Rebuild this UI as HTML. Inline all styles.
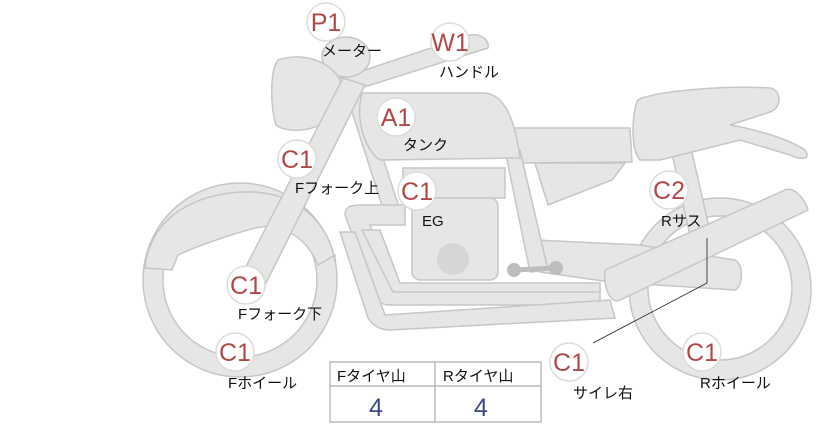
<!DOCTYPE html>
<html><head><meta charset="utf-8"><style>
html,body{margin:0;padding:0;background:#fff;}
svg{display:block;font-family:"Liberation Sans","Noto Sans CJK JP",sans-serif;}
.p{fill:#e6e6e4;stroke:#c6c6c4;stroke-width:1.5;}
.b circle{fill:#fff;stroke:#dcdcdc;stroke-width:1.5;}
.b text{fill:#b04848;font-size:25px;text-anchor:middle;}
.l{font-size:15px;fill:#111;}
</style></head><body>
<svg width="822" height="425" viewBox="0 0 822 425">
<!-- front wheel -->
<path class="p" fill-rule="evenodd" d="M240,183a97,97 0 1,0 0.1,0zM240,203a77,77 0 1,1 -0.1,0z"/>
<!-- front fender -->
<path class="p" d="M145,268 C150,215 200,190 255,192 C300,195 330,225 335,262 L335,255 L318,265 C305,235 280,222 255,228 C230,235 200,245 178,255 L172,270 Z"/>
<!-- rear wheel -->
<path class="p" fill-rule="evenodd" d="M720,198a91,91 0 1,0 0.1,0zM720,216a72,72 0 1,1 -0.1,0z"/>
<!-- rear frame strut -->
<path class="p" d="M668,135 L688,135 L712,240 L692,245 Z"/>
<!-- rear seat -->
<path class="p" d="M638,100 C650,92 720,85 770,88 C782,90 782,108 770,112 L730,125 C760,130 790,140 805,150 C812,160 800,160 790,155 L740,140 L660,160 L640,160 C630,150 632,110 638,100Z"/>
<!-- seat -->
<path class="p" d="M512,128 L630,128 L632,162 L520,163 C505,160 505,135 512,128Z"/>
<path class="p" d="M535,163 L625,163 L612,180 L548,205 Z"/>
<!-- swingarm -->
<path class="p" d="M535,240 L640,245 L735,260 C745,265 742,288 735,290 L610,282 L540,272 Z"/>
<!-- frame -->
<path class="p" d="M505,150 L520,150 L548,270 L530,272 Z"/>
<path class="p" d="M345,90 L360,88 L400,210 L385,215 Z"/>
<!-- handlebar -->
<path class="p" d="M335,80 L470,35 C480,33 490,40 488,48 L475,52 L355,90 Z"/>
<!-- meter -->
<ellipse class="p" cx="346" cy="57" rx="24" ry="20"/>
<!-- headlight -->
<path class="p" d="M278,60 C300,52 330,60 340,80 C345,95 340,115 320,125 C305,132 285,132 276,125 C270,105 270,70 278,60Z"/>
<!-- fork -->
<path class="p" d="M343,78 L365,85 L260,295 L238,282 Z"/>
<!-- tank -->
<path class="p" d="M362,93 L485,93 C505,95 515,120 520,158 L380,160 C365,150 355,120 362,93Z"/>
<!-- engine -->
<rect class="p" x="403" y="168" width="102" height="30"/>
<rect class="p" x="412" y="198" width="86" height="82" rx="8"/>
<circle cx="453" cy="259" r="16" fill="#d6d6d6"/>
<!-- exhaust pipes -->
<path class="p" d="M345,215 C345,207 350,205 360,205 L405,205 L405,225 L370,225 L395,290 L600,290 L600,305 L390,305 C380,305 378,300 375,295 Z"/>
<path class="p" d="M362,230 L380,230 L400,283 L600,283 L600,292 L393,292 Z"/>
<path class="p" d="M340,232 L355,232 L385,315 L610,300 L615,318 L390,330 C380,330 372,325 368,318 Z"/>
<!-- peg -->
<line x1="514" y1="270" x2="556" y2="268" stroke="#bdbdbd" stroke-width="5"/>
<circle cx="514" cy="270" r="7" fill="#bdbdbd"/><circle cx="556" cy="268" r="7" fill="#bdbdbd"/>
<!-- muffler -->
<path class="p" d="M605,270 L785,190 C795,186 805,200 808,210 L620,300 C612,305 603,290 605,270Z"/>
<!-- leader -->
<polyline points="593,343 707,283 707,238" fill="none" stroke="#222" stroke-width="0.8"/>
<!-- badges -->
<g class="b">
<circle cx="326" cy="22" r="19"/><text x="326" y="31">P1</text>
<circle cx="450" cy="42" r="19"/><text x="450" y="51">W1</text>
<circle cx="396" cy="117" r="19"/><text x="396" y="126">A1</text>
<circle cx="297" cy="159" r="19"/><text x="297" y="168">C1</text>
<circle cx="417" cy="191" r="19"/><text x="417" y="200">C1</text>
<circle cx="669" cy="190" r="19"/><text x="669" y="199">C2</text>
<circle cx="246" cy="285" r="19"/><text x="246" y="294">C1</text>
<circle cx="235" cy="352" r="19"/><text x="235" y="361">C1</text>
<circle cx="569" cy="362" r="19"/><text x="569" y="371">C1</text>
<circle cx="702" cy="352" r="19"/><text x="702" y="361">C1</text>
</g>
<text class="l" x="322" y="56">メーター</text>
<text class="l" x="439" y="77">ハンドル</text>
<text class="l" x="403" y="150">タンク</text>
<text class="l" x="295" y="193">Fフォーク上</text>
<text class="l" x="422" y="226">EG</text>
<text class="l" x="661" y="226">Rサス</text>
<text class="l" x="238" y="319">Fフォーク下</text>
<text class="l" x="228" y="388">Fホイール</text>
<text class="l" x="573" y="398">サイレ右</text>
<text class="l" x="700" y="388">Rホイール</text>
<!-- table -->
<rect x="330" y="362" width="211" height="60" fill="#fff" stroke="#aaa" stroke-width="1.2"/>
<line x1="330" y1="386" x2="541" y2="386" stroke="#aaa" stroke-width="1.2"/>
<line x1="435" y1="362" x2="435" y2="422" stroke="#aaa" stroke-width="1.2"/>
<text class="l" x="337" y="381">Fタイヤ山</text>
<text class="l" x="443" y="381">Rタイヤ山</text>
<text x="376" y="416" font-size="25" fill="#3a4a8a" text-anchor="middle">4</text>
<text x="481" y="416" font-size="25" fill="#3a4a8a" text-anchor="middle">4</text>
</svg>
</body></html>
